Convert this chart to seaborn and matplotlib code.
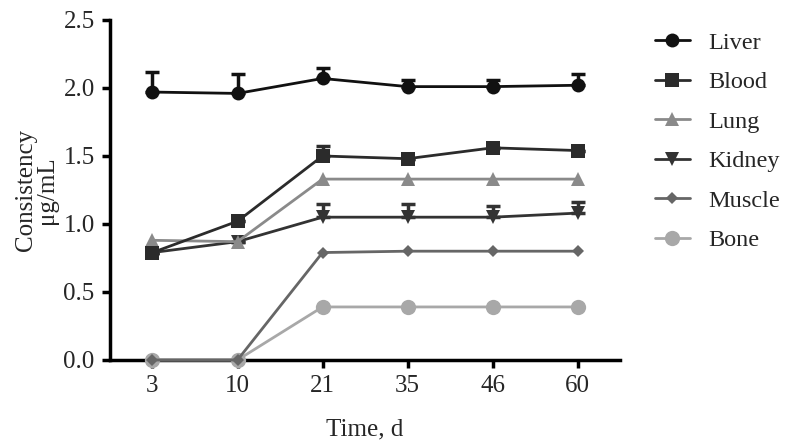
import numpy as np
import pandas as pd
import matplotlib
matplotlib.use("Agg")
import matplotlib.pyplot as plt
import seaborn as sns

# data
days = ["3", "10", "21", "35", "46", "60"]
tissues = ["Liver", "Blood", "Lung", "Kidney", "Muscle", "Bone"]

liver = [1.97, 1.96, 2.07, 2.01, 2.01, 2.02]
blood = [0.79, 1.02, 1.50, 1.48, 1.56, 1.54]
lung = [0.88, 0.87, 1.33, 1.33, 1.33, 1.33]
kidney = [0.79, 0.87, 1.05, 1.05, 1.05, 1.08]
muscle = [0.0, 0.0, 0.79, 0.80, 0.80, 0.80]
bone = [0.0, 0.0, 0.39, 0.39, 0.39, 0.39]

# upper error (SD) estimated from the caps
liver_err = [0.15, 0.14, 0.08, 0.05, 0.05, 0.08]
blood_err = [0.0, 0.0, 0.07, 0.0, 0.0, 0.0]
kidney_err = [0.0, 0.0, 0.10, 0.10, 0.08, 0.08]

values = [liver, blood, lung, kidney, muscle, bone]
errors = {"Liver": liver_err, "Blood": blood_err, "Kidney": kidney_err}

colors = {"Liver": "#111111", "Blood": "#2b2b2b", "Lung": "#8a8a8a",
          "Kidney": "#333333", "Muscle": "#666666", "Bone": "#a8a8a8"}
markers = {"Liver": "o", "Blood": "s", "Lung": "^", "Kidney": "v",
           "Muscle": "D", "Bone": "o"}
sizes = {"Liver": 10, "Blood": 10, "Lung": 10, "Kidney": 10, "Muscle": 6, "Bone": 11}

rows = []
for t, v in zip(tissues, values):
    for i, val in enumerate(v):
        rows.append({"tissue": t, "pos": i, "value": val})
df = pd.DataFrame(rows)

sns.set_style("ticks")
plt.rcParams["font.family"] = ["Liberation Serif", "DejaVu Serif"]
plt.rcParams["font.size"] = 18

fig = plt.figure(figsize=(7.94, 4.41), dpi=100)
ax = fig.add_axes([0.1385, 0.1837, 0.6425, 0.771])

# draw in reverse so Liver ends up on top
for t in tissues[::-1]:
    sub = df[df["tissue"] == t]
    if t in errors:
        ax.errorbar(sub["pos"], sub["value"],
                    yerr=[np.zeros(len(sub)), errors[t]],
                    fmt="none", ecolor=colors[t], elinewidth=2.5,
                    capsize=5, capthick=2.5, zorder=4)
    sns.lineplot(data=sub, x="pos", y="value", color=colors[t],
                 marker=markers[t], markersize=sizes[t], markeredgewidth=0,
                 linewidth=2, label=t, ax=ax, zorder=5, clip_on=False)

handles, labels = ax.get_legend_handles_labels()
order = [labels.index(t) for t in tissues]
fig.legend([handles[i] for i in order], tissues, loc="upper left",
           bbox_to_anchor=(0.797, 0.978), frameon=False, fontsize=17.5,
           handlelength=1.45, labelspacing=0.72, handletextpad=0.75,
           borderpad=0.4)
ax.get_legend().remove()

ax.set_xlim(-0.5, 5.5)
ax.set_ylim(0, 2.5)
ax.set_xticks(range(len(days)))
ax.set_xticklabels(days)
ax.set_yticks([0, 0.5, 1.0, 1.5, 2.0, 2.5])
ax.set_yticklabels(["0.0", "0.5", "1.0", "1.5", "2.0", "2.5"])
ax.set_xlabel("Time, d", labelpad=15)
ax.set_ylabel("Consistency\nμg/mL", labelpad=4, linespacing=0.95)
ax.tick_params(width=2.5, length=6, labelsize=18, color="black", pad=5)
for s in ["left", "bottom"]:
    ax.spines[s].set_linewidth(2.5)
    ax.spines[s].set_color("black")
sns.despine(ax=ax)

fig.savefig("out.png", dpi=100)
